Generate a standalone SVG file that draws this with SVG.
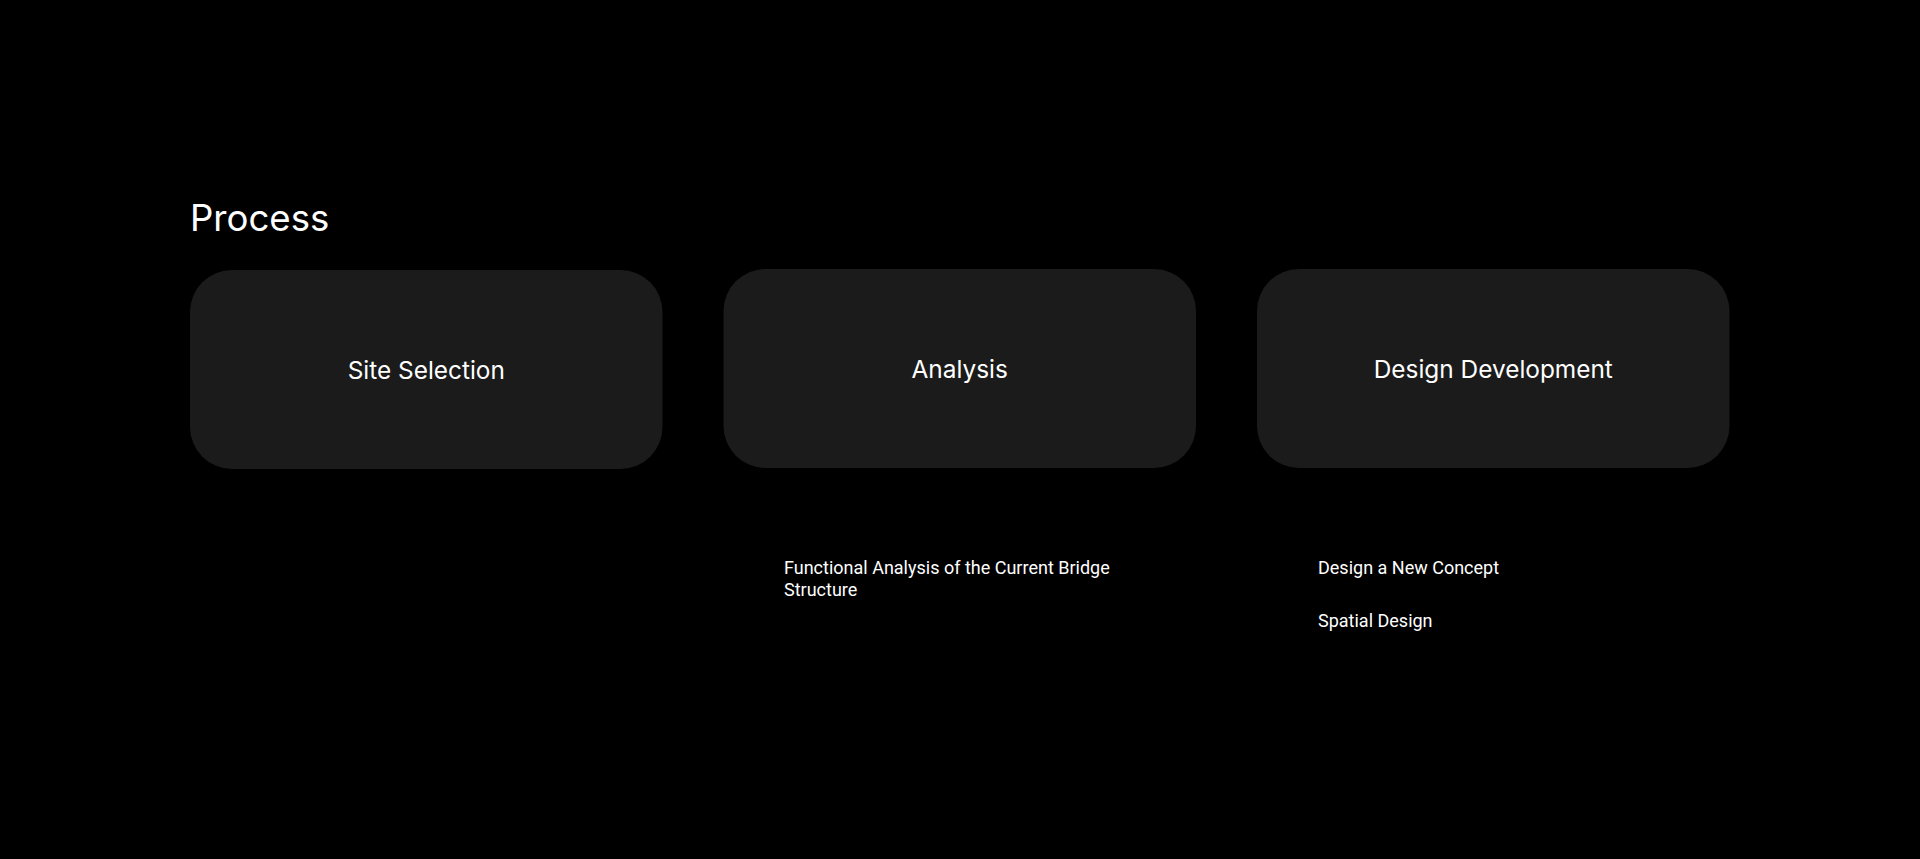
<svg xmlns="http://www.w3.org/2000/svg" width="1920" height="859" viewBox="0 0 1920 859">
<style>
.box{fill:#1b1b1b}
.title{font-family:Inter,"Noto Sans",sans-serif;fill:#ffffff;font-weight:400}
.sub{font-family:Roboto,"Noto Sans",sans-serif;fill:#ffffff;font-size:18px}
</style>
<rect width="1920" height="859" fill="#000000"/>
<text class="title" x="190" y="231" font-size="36.6">Process</text>
<g id="site-selection">
<rect class="box" x="190" y="270" width="472.5" height="199" rx="42"/>
<text class="title" x="426.3" y="379.3" font-size="24.4" text-anchor="middle">Site Selection</text>
</g>
<g id="analysis">
<rect class="box" x="723.5" y="269" width="472.5" height="199" rx="42"/>
<text class="title" x="959.7" y="377.7" font-size="24.4" text-anchor="middle">Analysis</text>
<text class="sub" x="784" y="573.8">Functional Analysis of the Current Bridge</text>
<text class="sub" x="784" y="595.5">Structure</text>
</g>
<g id="design-development">
<rect class="box" x="1257" y="269" width="472.5" height="199" rx="42"/>
<text class="title" x="1493.3" y="377.7" font-size="24.4" text-anchor="middle">Design Development</text>
<text class="sub" x="1318" y="573.8">Design a New Concept</text>
<text class="sub" x="1318" y="626.5">Spatial Design</text>
</g>
<g id="connectors"></g>
</svg>
